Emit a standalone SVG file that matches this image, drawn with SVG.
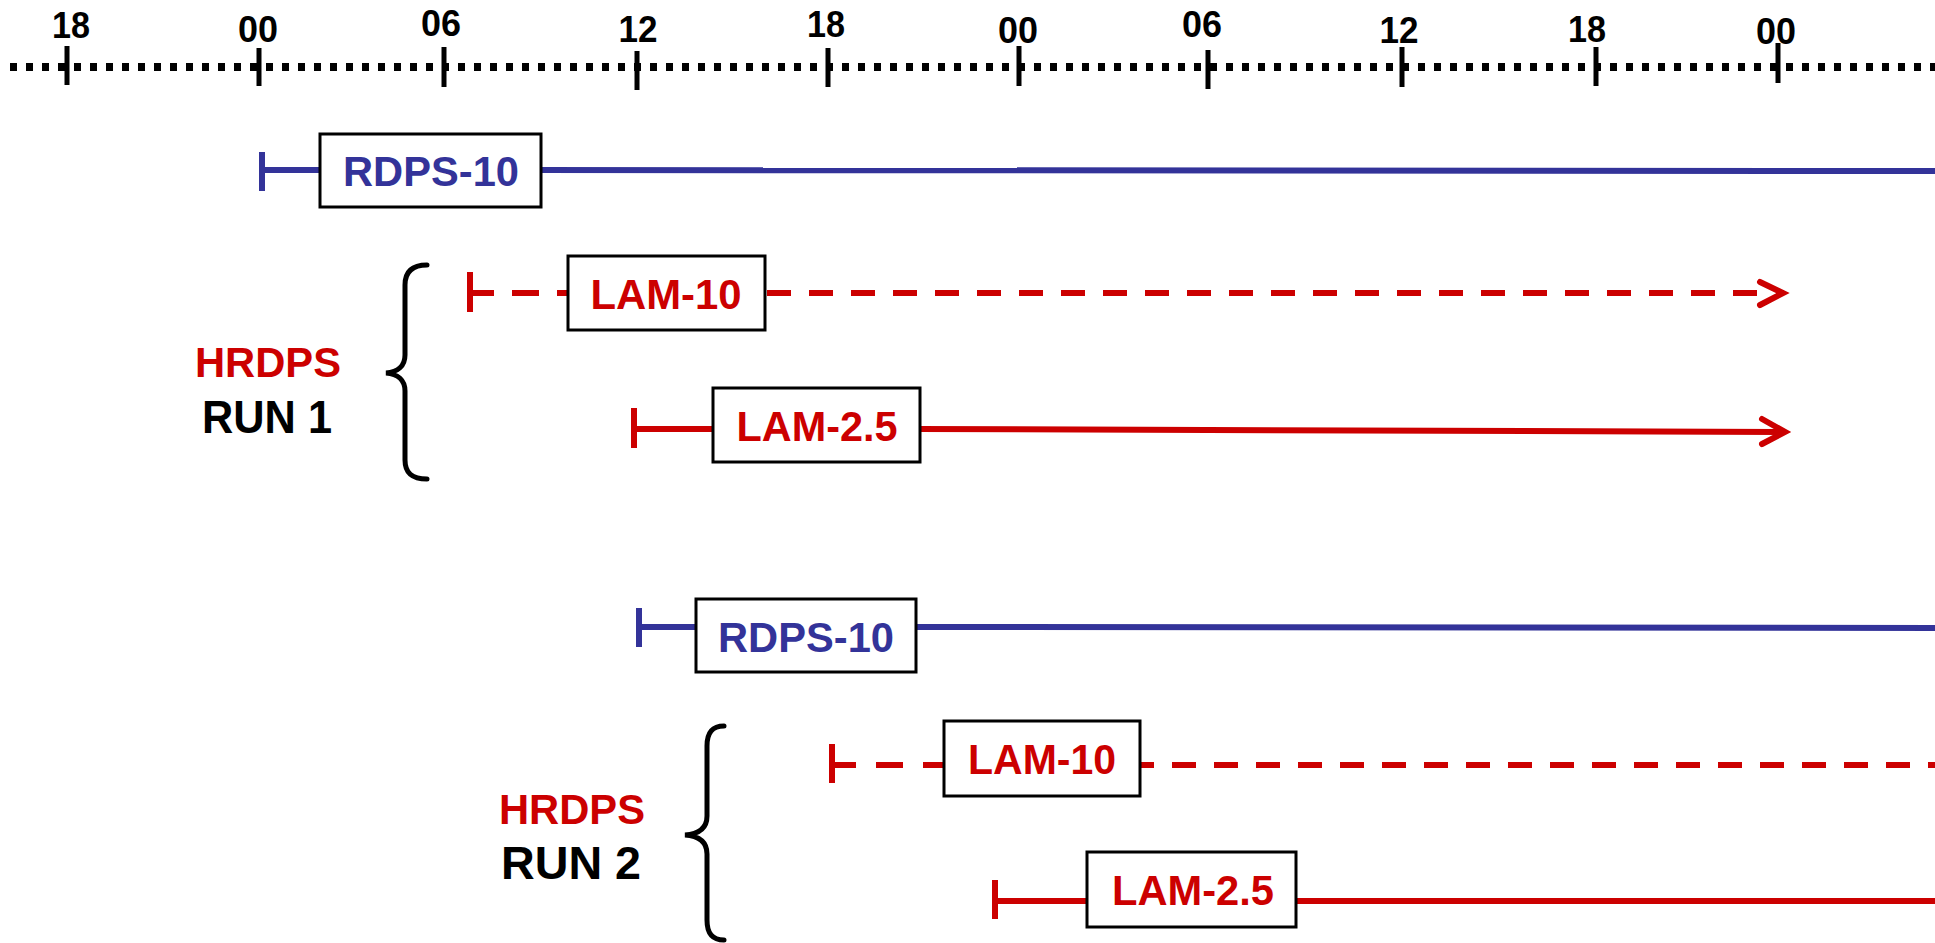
<svg xmlns="http://www.w3.org/2000/svg" width="1935" height="943" viewBox="0 0 1935 943">
<style>
text{font-family:"Liberation Sans",Arial,sans-serif;font-weight:bold;}
.ax{font-size:37px;fill:#000;text-anchor:middle;}
.tick{stroke:#000;stroke-width:5;}
.lbl{font-size:43px;text-anchor:middle;}
.blue{fill:#333399;}
.red{fill:#cc0000;}
.box{fill:#fff;stroke:#000;stroke-width:3;}
.bl{stroke:#333399;stroke-width:6;fill:none;}
.rd{stroke:#cc0000;stroke-width:6;fill:none;}
.dash1{stroke-dasharray:27 18;}
.dash{stroke-dasharray:24 18;}
.head{stroke:#cc0000;stroke-width:6;fill:none;stroke-linecap:round;stroke-linejoin:miter;}
.brace{stroke:#000;stroke-width:5;fill:none;stroke-linecap:round;}
</style>
<rect width="1935" height="943" fill="#fff"/>
<g id="axis">
<line x1="10" y1="67" x2="1935" y2="67" stroke="#000" stroke-width="8" stroke-dasharray="7 9"/>
<line class="tick" x1="67" y1="46" x2="67" y2="85"/>
<line class="tick" x1="259" y1="48" x2="259" y2="86"/>
<line class="tick" x1="444" y1="47" x2="444" y2="87"/>
<line class="tick" x1="637" y1="51" x2="637" y2="90"/>
<line class="tick" x1="828" y1="48" x2="828" y2="87"/>
<line class="tick" x1="1019" y1="46" x2="1019" y2="86"/>
<line class="tick" x1="1208" y1="50" x2="1208" y2="89"/>
<line class="tick" x1="1402" y1="47" x2="1402" y2="87"/>
<line class="tick" x1="1596" y1="47" x2="1596" y2="86"/>
<line class="tick" x1="1778" y1="43" x2="1778" y2="83"/>
<text class="ax" x="71" y="38" textLength="38" lengthAdjust="spacingAndGlyphs">18</text>
<text class="ax" x="258" y="42" textLength="40" lengthAdjust="spacingAndGlyphs">00</text>
<text class="ax" x="441" y="36" textLength="40" lengthAdjust="spacingAndGlyphs">06</text>
<text class="ax" x="638" y="42" textLength="39" lengthAdjust="spacingAndGlyphs">12</text>
<text class="ax" x="826" y="37" textLength="38" lengthAdjust="spacingAndGlyphs">18</text>
<text class="ax" x="1018" y="43" textLength="40" lengthAdjust="spacingAndGlyphs">00</text>
<text class="ax" x="1202" y="37" textLength="40" lengthAdjust="spacingAndGlyphs">06</text>
<text class="ax" x="1399" y="43" textLength="39" lengthAdjust="spacingAndGlyphs">12</text>
<text class="ax" x="1587" y="42" textLength="38" lengthAdjust="spacingAndGlyphs">18</text>
<text class="ax" x="1776" y="44" textLength="40" lengthAdjust="spacingAndGlyphs">00</text>
</g>
<g id="connectors">
<!-- run 1 RDPS-10 -->
<line class="bl" x1="262" y1="152" x2="262" y2="191"/>
<line class="bl" x1="262" y1="170" x2="322" y2="170"/>
<line class="bl" x1="539" y1="170" x2="1935" y2="171"/>
<!-- run 1 LAM-10 -->
<line class="rd" x1="470" y1="272" x2="470" y2="312"/>
<line class="rd dash1" x1="467" y1="293" x2="568" y2="293"/>
<line class="rd dash" x1="767" y1="293" x2="1757" y2="293"/>
<polyline class="head" points="1760,282 1783,293 1760,305"/>
<!-- run 1 LAM-2.5 -->
<line class="rd" x1="634" y1="408" x2="634" y2="448"/>
<line class="rd" x1="634" y1="429" x2="715" y2="429"/>
<line class="rd" x1="918" y1="429" x2="1780" y2="432"/>
<polyline class="head" points="1762,419 1785,432 1762,444"/>
<!-- run 2 RDPS-10 -->
<line class="bl" x1="639" y1="608" x2="639" y2="647"/>
<line class="bl" x1="639" y1="627" x2="698" y2="627"/>
<line class="bl" x1="914" y1="627" x2="1935" y2="628"/>
<!-- run 2 LAM-10 -->
<line class="rd" x1="832" y1="744" x2="832" y2="783"/>
<line class="rd" x1="829" y1="765" x2="944" y2="765" stroke-dasharray="27 20"/>
<line class="rd dash" x1="1130" y1="765" x2="1935" y2="765"/>
<!-- run 2 LAM-2.5 -->
<line class="rd" x1="995" y1="880" x2="995" y2="919"/>
<line class="rd" x1="995" y1="901" x2="1089" y2="901"/>
<line class="rd" x1="1294" y1="901" x2="1935" y2="901"/>
</g>
<g id="rdps10-run1">
<rect class="box" x="320" y="134" width="221" height="73"/>
<text class="lbl blue" x="431" y="186" textLength="176" lengthAdjust="spacingAndGlyphs">RDPS-10</text>
</g>
<g id="lam10-run1">
<rect class="box" x="568" y="256" width="197" height="74"/>
<text class="lbl red" x="666" y="309" textLength="151" lengthAdjust="spacingAndGlyphs">LAM-10</text>
</g>
<g id="lam25-run1">
<rect class="box" x="713" y="388" width="207" height="74"/>
<text class="lbl red" x="817" y="441" textLength="161" lengthAdjust="spacingAndGlyphs">LAM-2.5</text>
</g>
<g id="hrdps-run1">
<text x="268" y="377" font-size="42" fill="#cc0000" text-anchor="middle" textLength="146" lengthAdjust="spacingAndGlyphs">HRDPS</text>
<text x="267" y="433" font-size="46" fill="#000" text-anchor="middle" textLength="130" lengthAdjust="spacingAndGlyphs">RUN 1</text>
<path class="brace" d="M427,265 C412,265 405,272 405,285 L405,355 C405,366 398,372 386,373 C398,374 405,380 405,391 L405,460 C405,473 412,479 427,479"/>
</g>
<g id="rdps10-run2">
<rect class="box" x="696" y="599" width="220" height="73"/>
<text class="lbl blue" x="806" y="652" textLength="176" lengthAdjust="spacingAndGlyphs">RDPS-10</text>
</g>
<g id="lam10-run2">
<rect class="box" x="944" y="721" width="196" height="75"/>
<text class="lbl red" x="1042" y="774" textLength="148" lengthAdjust="spacingAndGlyphs">LAM-10</text>
</g>
<g id="lam25-run2">
<rect class="box" x="1087" y="852" width="209" height="75"/>
<text class="lbl red" x="1193" y="905" textLength="162" lengthAdjust="spacingAndGlyphs">LAM-2.5</text>
</g>
<g id="hrdps-run2">
<text x="572" y="824" font-size="42" fill="#cc0000" text-anchor="middle" textLength="146" lengthAdjust="spacingAndGlyphs">HRDPS</text>
<text x="571" y="879" font-size="46" fill="#000" text-anchor="middle" textLength="140" lengthAdjust="spacingAndGlyphs">RUN 2</text>
<path class="brace" d="M724,726 C712,726 707,733 707,746 L707,816 C707,828 699,834 685,835 C699,836 707,842 707,854 L707,920 C707,933 712,940 724,940"/>
</g>
</svg>
